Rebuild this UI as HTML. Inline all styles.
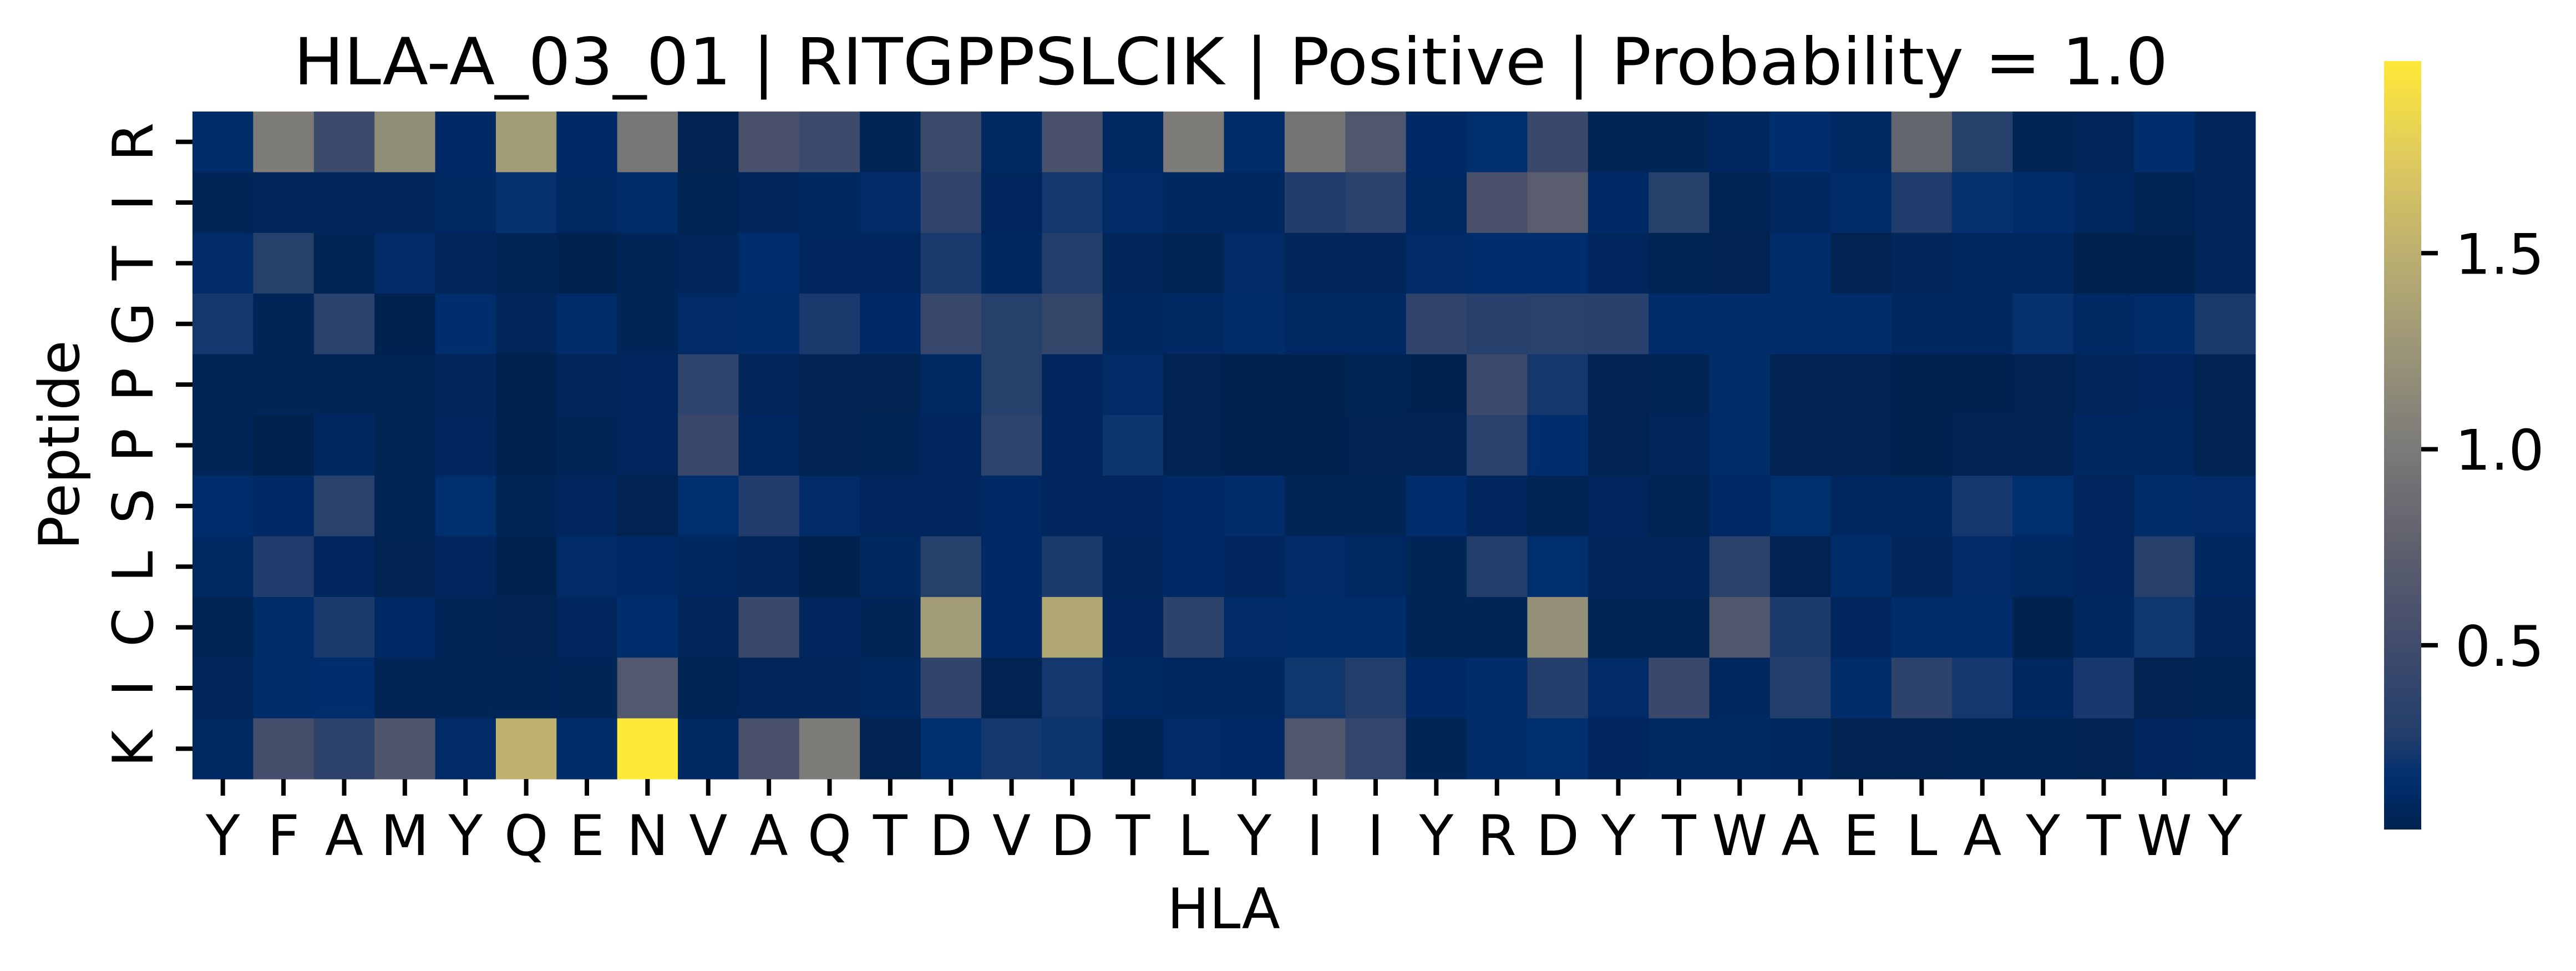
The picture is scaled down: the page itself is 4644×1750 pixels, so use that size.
<!DOCTYPE html>
<html><head><meta charset="utf-8"><style>
html,body{margin:0;padding:0;background:#fff;}
svg{display:block;font-family:"DejaVu Sans","Liberation Sans",sans-serif;}
</style></head><body>
<svg id="chart" width="4644" height="1750" viewBox="0 0 4644 1750" xmlns="http://www.w3.org/2000/svg">
<rect x="0" y="0" width="4644" height="1750" fill="#fff"/>
<text x="2219" y="152" font-size="117" text-anchor="middle" textLength="3379" lengthAdjust="spacingAndGlyphs">HLA-A_03_01 | RITGPPSLCIK | Positive | Probability = 1.0</text>
<g id="cells"></g>
<g id="xticks"></g>
<g id="yticks"></g>
<text x="2206" y="1673" font-size="101" text-anchor="middle">HLA</text>
<text transform="translate(142,802) rotate(-90)" font-size="101" text-anchor="middle">Peptide</text>
<defs><linearGradient id="cbgrad" x1="0" y1="1" x2="0" y2="0"></linearGradient></defs>
<rect x="4298" y="110" width="67" height="1385" fill="url(#cbgrad)"/>
<g id="cbticks"></g>
</svg>
<script>
const xLabels = ["Y","F","A","M","Y","Q","E","N","V","A","Q","T","D","V","D","T","L","Y","I","I","Y","R","D","Y","T","W","A","E","L","A","Y","T","W","Y"];
const yLabels = ["R","I","T","G","P","P","S","L","C","I","K"];
const row0 = [0.14,1.02,0.47,1.17,0.11,1.30,0.11,0.96,0.04,0.56,0.47,0.06,0.46,0.10,0.56,0.10,1.02,0.14,0.95,0.63,0.11,0.16,0.44,0.05,0.06,0.09,0.15,0.10,0.80,0.30,0.05,0.07,0.15,0.07];
const row1 = [0.06,0.07,0.07,0.07,0.10,0.18,0.10,0.14,0.05,0.07,0.09,0.12,0.38,0.08,0.22,0.12,0.09,0.09,0.27,0.33,0.10,0.56,0.72,0.11,0.30,0.05,0.09,0.13,0.26,0.18,0.14,0.09,0.05,0.07];
const row2 = [0.12,0.30,0.05,0.12,0.07,0.05,0.03,0.06,0.07,0.15,0.08,0.08,0.24,0.09,0.28,0.07,0.05,0.12,0.07,0.07,0.12,0.15,0.15,0.08,0.05,0.04,0.14,0.04,0.07,0.09,0.09,0.03,0.03,0.07];
const row3 = [0.22,0.06,0.33,0.03,0.15,0.07,0.14,0.06,0.12,0.14,0.24,0.11,0.42,0.30,0.41,0.09,0.10,0.14,0.10,0.10,0.38,0.31,0.33,0.31,0.14,0.13,0.14,0.14,0.09,0.09,0.18,0.10,0.14,0.24];
const row4 = [0.05,0.06,0.06,0.05,0.07,0.03,0.07,0.08,0.37,0.07,0.04,0.04,0.10,0.30,0.08,0.12,0.04,0.03,0.03,0.05,0.03,0.46,0.22,0.04,0.05,0.14,0.04,0.04,0.03,0.03,0.04,0.07,0.08,0.04];
const row5 = [0.06,0.03,0.09,0.05,0.08,0.03,0.06,0.08,0.45,0.09,0.04,0.06,0.08,0.37,0.08,0.20,0.04,0.03,0.03,0.04,0.04,0.33,0.15,0.04,0.07,0.14,0.04,0.04,0.03,0.04,0.04,0.09,0.09,0.04];
const row6 = [0.15,0.11,0.32,0.05,0.16,0.06,0.08,0.04,0.16,0.27,0.12,0.08,0.08,0.11,0.08,0.08,0.11,0.13,0.06,0.06,0.15,0.08,0.05,0.08,0.05,0.11,0.16,0.09,0.09,0.22,0.16,0.08,0.13,0.12];
const row7 = [0.10,0.26,0.08,0.04,0.08,0.03,0.12,0.11,0.09,0.07,0.03,0.09,0.30,0.11,0.25,0.07,0.11,0.08,0.12,0.10,0.06,0.28,0.16,0.07,0.07,0.34,0.04,0.14,0.07,0.12,0.10,0.08,0.31,0.09];
const row8 = [0.05,0.14,0.24,0.11,0.06,0.04,0.08,0.15,0.07,0.44,0.08,0.06,1.30,0.11,1.42,0.08,0.35,0.12,0.14,0.14,0.06,0.06,1.20,0.05,0.05,0.63,0.25,0.08,0.14,0.14,0.03,0.09,0.21,0.07];
const row9 = [0.07,0.14,0.15,0.05,0.06,0.06,0.06,0.65,0.05,0.07,0.07,0.09,0.38,0.04,0.22,0.10,0.09,0.09,0.21,0.28,0.11,0.14,0.28,0.12,0.44,0.09,0.28,0.14,0.36,0.22,0.09,0.23,0.04,0.05];
const row10 = [0.10,0.54,0.36,0.62,0.12,1.52,0.13,1.99,0.10,0.56,1.02,0.04,0.17,0.22,0.20,0.05,0.12,0.11,0.63,0.39,0.06,0.14,0.16,0.08,0.10,0.10,0.09,0.04,0.04,0.05,0.05,0.04,0.08,0.09];
const values = [row0,row1,row2,row3,row4,row5,row6,row7,row8,row9,row10];
const cbTicks = [0.5,1.0,1.5];

const NS = "http://www.w3.org/2000/svg";
const X0 = 347, X1 = 4066, Y0 = 201, Y1 = 1404;
const cw = (X1 - X0) / xLabels.length, ch = (Y1 - Y0) / yLabels.length;
const xPos = i => X0 + i * cw;
const yPos = j => Y0 + j * ch;
let all = [].concat(...values);
const vmin = Math.min(...all), vmax = Math.max(...all);
const CB0 = 1495, CB1 = 110;
const cbY = v => CB0 - (v - vmin) / (vmax - vmin) * (CB0 - CB1);

const stops = [[0,"#00224e"],[0.04,"#002a65"],[0.07,"#00306f"],[0.1,"#16386d"],[0.125,"#233e6c"],[0.25,"#434d6b"],[0.375,"#5f616e"],[0.5,"#7c7b78"],[0.625,"#9b9677"],[0.75,"#bcaf6f"],[0.875,"#dfcb5d"],[1,"#fee838"]];
function hex(h){return [1,3,5].map(k=>parseInt(h.substr(k,2),16));}
function cmap(t){
  t=Math.max(0,Math.min(1,t));
  for(let k=1;k<stops.length;k++){
    if(t<=stops[k][0]){
      const a=stops[k-1],b=stops[k],f=(t-a[0])/(b[0]-a[0]);
      const ca=hex(a[1]),cb=hex(b[1]);
      return "rgb("+ca.map((c,i)=>Math.round(c+(cb[i]-c)*f)).join(",")+")";
    }
  }
  return stops[stops.length-1][1];
}
function mk(tag, attrs, parent){
  const e=document.createElementNS(NS,tag);
  for(const k in attrs) e.setAttribute(k,attrs[k]);
  parent.appendChild(e); return e;
}
const cells=document.getElementById("cells");
values.forEach((row,j)=>row.forEach((v,i)=>{
  const r=mk("rect",{x:xPos(i),y:yPos(j),width:cw+0.6,height:ch+0.6,fill:cmap((v-vmin)/(vmax-vmin))},cells);
  
  
}));
const xt=document.getElementById("xticks");
xLabels.forEach((l,i)=>{
  const cx=xPos(i)+cw/2;
  const t=mk("line",{x1:cx,y1:Y1,x2:cx,y2:Y1+30,stroke:"#000","stroke-width":8},xt);
  
  
  const tx=mk("text",{x:cx,y:1541,"font-size":101,"text-anchor":"middle"},xt);
  tx.textContent=l;
  
  
});
const yt=document.getElementById("yticks");
yLabels.forEach((l,j)=>{
  const cy=yPos(j)+ch/2;
  const t=mk("line",{x1:X0-30,y1:cy,x2:X0,y2:cy,stroke:"#000","stroke-width":8},yt);
  
  
  const tx=mk("text",{transform:"translate(275,"+cy+") rotate(-90)","font-size":101,"text-anchor":"middle"},yt);
  tx.textContent=l;
  
  
});
const grad=document.getElementById("cbgrad");
for(let k=0;k<=40;k++){
  mk("stop",{offset:(k/40),"stop-color":cmap(k/40)},grad);
}
const cbt=document.getElementById("cbticks");
cbTicks.forEach(v=>{
  const y=cbY(v);
  const t=mk("line",{x1:4365,y1:y,x2:4395,y2:y,stroke:"#000","stroke-width":8},cbt);
  
  
  const tx=mk("text",{x:4426,y:y+37,"font-size":101},cbt);
  tx.textContent=v.toFixed(1);
  
  
});
</script>
</body></html>
